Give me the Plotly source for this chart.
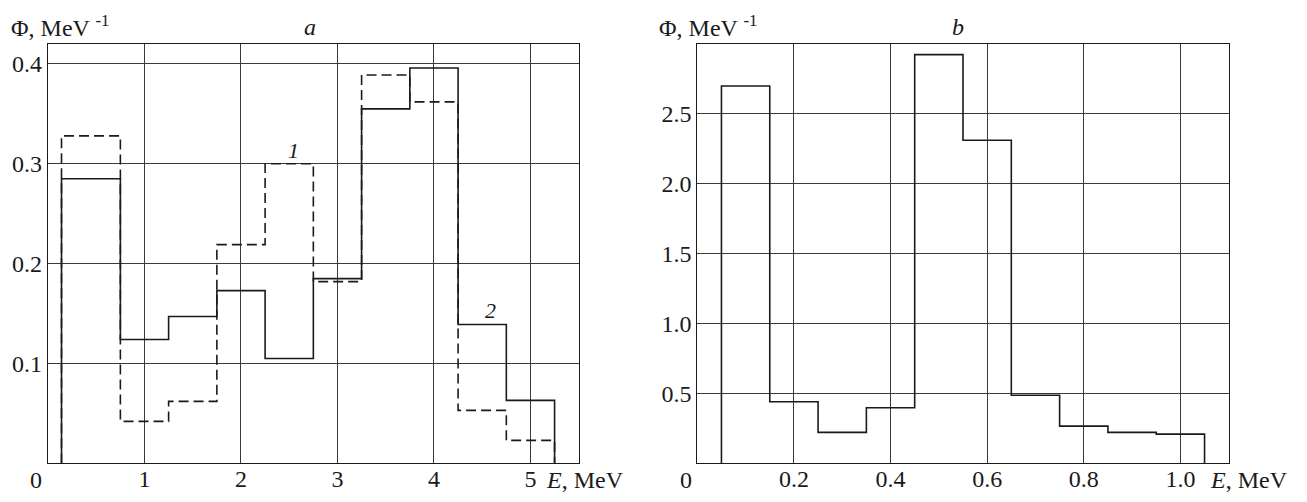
import plotly.graph_objects as go

# ---------------- data ----------------
# Panel a: bin edges (MeV) and spectra Φ (MeV^-1)
edges_a = [0.14, 0.75, 1.25, 1.75, 2.25, 2.75, 3.25, 3.75, 4.25, 4.75, 5.25]
curve1_a = [0.328, 0.042, 0.062, 0.219, 0.300, 0.182, 0.389, 0.362, 0.053, 0.023]  # dashed
curve2_a = [0.285, 0.124, 0.147, 0.173, 0.105, 0.185, 0.355, 0.396, 0.139, 0.063]  # solid

# Panel b
edges_b = [0.05, 0.15, 0.25, 0.35, 0.45, 0.55, 0.65, 0.75, 0.85, 0.95, 1.05]
values_b = [2.70, 0.44, 0.221, 0.397, 2.924, 2.311, 0.487, 0.266, 0.221, 0.209]

xticks_a = [1, 2, 3, 4, 5]
yticks_a = [0.1, 0.2, 0.3, 0.4]
yticklabels_a = ["0.1", "0.2", "0.3", "0.4"]
xticks_b = [0.2, 0.4, 0.6, 0.8, 1.0]
xticklabels_b = ["0.2", "0.4", "0.6", "0.8", "1.0"]
yticks_b = [0.5, 1.0, 1.5, 2.0, 2.5]
yticklabels_b = ["0.5", "1.0", "1.5", "2.0", "2.5"]

FONT = "Liberation Serif, DejaVu Serif, serif"
INK = "#1a1a1a"
GRID = "#3a3a3a"
W, H = 1307, 502


def step(edges, vals):
    xs = [edges[0]] + list(edges)
    ys = [0] + list(vals) + [0]
    return xs, ys


fig = go.Figure()

xs, ys = step(edges_a, curve2_a)
fig.add_trace(go.Scatter(x=xs, y=ys, mode="lines", line=dict(shape="hv", color=INK, width=1.6),
                         xaxis="x", yaxis="y", showlegend=False, hoverinfo="skip"))
xs, ys = step(edges_a, curve1_a)
fig.add_trace(go.Scatter(x=xs, y=ys, mode="lines",
                         line=dict(shape="hv", color=INK, width=1.6, dash="10px,5px"),
                         xaxis="x", yaxis="y", showlegend=False, hoverinfo="skip"))
xs, ys = step(edges_b, values_b)
fig.add_trace(go.Scatter(x=xs, y=ys, mode="lines", line=dict(shape="hv", color=INK, width=1.6),
                         xaxis="x2", yaxis="y2", showlegend=False, hoverinfo="skip"))

ydom = [1 - 463.3 / H, 1 - 44 / H]
axis_common = dict(showgrid=True, gridcolor=GRID, gridwidth=1, zeroline=False,
                   showline=True, linecolor=INK, linewidth=1.2, mirror=True,
                   ticks="", tickfont=dict(family=FONT, size=24, color=INK),
                   automargin=False, fixedrange=True)

fig.update_layout(
    width=W, height=H,
    margin=dict(l=0, r=0, t=0, b=0),
    paper_bgcolor="white", plot_bgcolor="white",
    xaxis=dict(domain=[48 / W, 578.7 / W], range=[0, 5.5], tickvals=xticks_a,
               ticktext=[str(v) for v in xticks_a], anchor="y", ticklabelstandoff=-6,
               **axis_common),
    yaxis=dict(domain=ydom, range=[0, 0.42], tickvals=yticks_a, ticktext=yticklabels_a,
               anchor="x", **axis_common),
    xaxis2=dict(domain=[697.3 / W, 1228.7 / W], range=[0, 1.1], tickvals=xticks_b,
                ticktext=xticklabels_b, anchor="y2", ticklabelstandoff=-6, **axis_common),
    yaxis2=dict(domain=ydom, range=[0, 3.0], tickvals=yticks_b, ticktext=yticklabels_b,
                anchor="x2", **axis_common),
)

tf = dict(family=FONT, size=24, color=INK)
ann = []
# corner zeros
ann.append(dict(x=0, y=0, xref="x", yref="y", text="0", showarrow=False, font=tf,
                xanchor="center", yanchor="middle", xshift=-12, yshift=-17))
ann.append(dict(x=0, y=0, xref="x2", yref="y2", text="0", showarrow=False, font=tf,
                xanchor="center", yanchor="middle", xshift=-11, yshift=-17))
# axis titles
ann.append(dict(x=544 / W, y=1 - 480 / H, xref="paper", yref="paper",
                text="<i>E</i>, MeV", showarrow=False, font=tf, xanchor="left", yanchor="middle"))
ann.append(dict(x=1208 / W, y=1 - 480 / H, xref="paper", yref="paper",
                text="<i>E</i>, MeV", showarrow=False, font=tf, xanchor="left", yanchor="middle"))
ann.append(dict(x=9 / W, y=1 - 26 / H, xref="paper", yref="paper",
                text="Φ, MeV <sup>-1</sup>", showarrow=False, font=tf, xanchor="left", yanchor="middle"))
ann.append(dict(x=657 / W, y=1 - 26 / H, xref="paper", yref="paper",
                text="Φ, MeV <sup>-1</sup>", showarrow=False, font=tf, xanchor="left", yanchor="middle"))
# panel letters
ann.append(dict(x=310 / W, y=1 - 27 / H, xref="paper", yref="paper", text="<i>a</i>",
                showarrow=False, font=tf, xanchor="center", yanchor="middle"))
ann.append(dict(x=958 / W, y=1 - 27 / H, xref="paper", yref="paper", text="<i>b</i>",
                showarrow=False, font=tf, xanchor="center", yanchor="middle"))
# curve labels
ann.append(dict(x=2.54, y=0.313, xref="x", yref="y", text="<i>1</i>", showarrow=False,
                font=dict(family=FONT, size=22, color=INK), xanchor="center", yanchor="middle"))
ann.append(dict(x=4.585, y=0.153, xref="x", yref="y", text="<i>2</i>", showarrow=False,
                font=dict(family=FONT, size=22, color=INK), xanchor="center", yanchor="middle"))

fig.update_layout(annotations=ann)
fig.write_html("out.html", config={"displayModeBar": False},
               post_script="document.body.style.margin='0';document.body.style.overflow='hidden';")
